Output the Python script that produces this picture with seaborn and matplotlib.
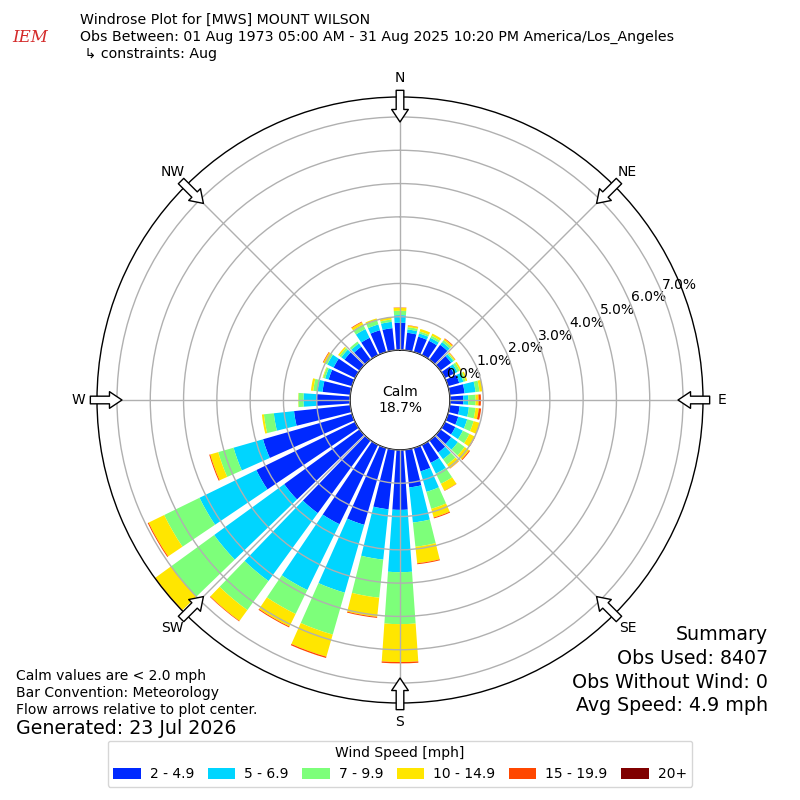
import numpy as np
import pandas as pd
import matplotlib
matplotlib.use("Agg")
import matplotlib.pyplot as plt
import seaborn as sns
from matplotlib.patches import Patch

# ---------------- data (percent of observations) ----------------
directions = list(range(0, 360, 10))
speed_bins = ["2 - 4.9", "5 - 6.9", "7 - 9.9", "10 - 14.9", "15 - 19.9", "20+"]

s_2_5 = [0.82, 0.53, 0.48, 0.48, 0.55, 0.40, 0.30, 0.35, 0.45, 0.40,
         0.30, 0.32, 0.35, 0.40, 0.45, 0.60, 0.73, 1.14, 1.80, 1.80,
         2.40, 2.65, 2.70, 2.80, 3.30, 2.78, 1.70, 1.00, 0.84, 0.73,
         0.72, 0.56, 0.48, 0.58, 0.68, 0.67]
s_5_7 = [0.23, 0.10, 0.10, 0.10, 0.10, 0.08, 0.12, 0.13, 0.33, 0.15,
         0.28, 0.28, 0.25, 0.25, 0.25, 0.36, 0.64, 1.06, 1.87, 1.52,
         2.12, 2.20, 2.52, 2.60, 1.90, 0.92, 0.61, 0.40, 0.15, 0.11,
         0.21, 0.12, 0.12, 0.29, 0.18, 0.19]
s_7_10 = [0.13, 0.07, 0.06, 0.07, 0.07, 0.04, 0.08, 0.07, 0.12, 0.22,
          0.20, 0.20, 0.22, 0.25, 0.20, 0.34, 0.53, 0.73, 1.56, 1.15,
          1.31, 0.80, 1.08, 1.60, 1.18, 0.48, 0.30, 0.15, 0.13, 0.06,
          0.07, 0.07, 0.07, 0.15, 0.13, 0.07]
s_10_15 = [0.09, 0.05, 0.08, 0.07, 0.05, 0.03, 0.05, 0.05, 0.10, 0.09,
           0.10, 0.18, 0.18, 0.17, 0.14, 0.23, 0.27, 0.50, 1.14, 0.58,
           0.69, 0.42, 0.40, 0.58, 0.52, 0.25, 0.06, 0.01, 0.07, 0.02,
           0.06, 0.05, 0.00, 0.08, 0.06, 0.07]
s_15_20 = [0.01, 0.01, 0.00, 0.00, 0.02, 0.01, 0.00, 0.00, 0.00, 0.07,
           0.07, 0.01, 0.02, 0.03, 0.01, 0.01, 0.03, 0.03, 0.04, 0.03,
           0.04, 0.03, 0.02, 0.02, 0.03, 0.03, 0.00, 0.00, 0.00, 0.00,
           0.02, 0.00, 0.00, 0.02, 0.00, 0.00]
s_20p = [0.0] * 36

calm_pct = 18.7
compass_labels = ["N", "NE", "E", "SE", "S", "SW", "W", "NW"]
ring_values = [0, 1, 2, 3, 4, 5, 6, 7]

title_lines = [
    "Windrose Plot for [MWS] MOUNT WILSON",
    "Obs Between: 01 Aug 1973 05:00 AM - 31 Aug 2025 10:20 PM America/Los_Angeles",
    " \u21b3 constraints: Aug",
]
left_notes = ["Calm values are < 2.0 mph", "Bar Convention: Meteorology",
              "Flow arrows relative to plot center."]
generated = "Generated: 23 Jul 2026"
summary_lines = ["Summary", "Obs Used: 8407", "Obs Without Wind: 0",
                 "Avg Speed: 4.9 mph"]

# ---------------- figure ----------------
sns.set_style("white")
plt.rcParams["font.family"] = ["DejaVu Sans"]
plt.rcParams["text.color"] = "black"
plt.rcParams["xtick.color"] = "black"
plt.rcParams["ytick.color"] = "black"
plt.rcParams["axes.labelcolor"] = "black"

series = [s_2_5, s_5_7, s_7_10, s_10_15, s_15_20, s_20p]
df = pd.DataFrame({"dir": np.tile(directions, len(speed_bins)),
                   "bin": np.repeat(speed_bins, len(directions)),
                   "pct": np.concatenate(series)})
palette = sns.color_palette(list(plt.cm.jet(np.linspace(0, 1, 7)[1:])))

fig = plt.figure(figsize=(8, 8), dpi=100)
ax = fig.add_axes([97 / 800, 97 / 800, 606 / 800, 606 / 800], projection="polar")
ax.set_theta_zero_location("N")
ax.set_theta_direction(-1)

bottom = np.zeros(len(directions))
for b, col in zip(speed_bins, palette):
    vals = df.loc[df["bin"] == b, "pct"].to_numpy()
    ax.bar(np.deg2rad(directions), vals, width=np.deg2rad(8), bottom=bottom,
           color=col, linewidth=0, align="center")
    bottom = bottom + vals

ax.set_rorigin(-1.5)
ax.set_rlim(0, 7.6)
ax.set_rticks(ring_values)
ax.set_yticklabels([f"{v:.1f}%" for v in ring_values], fontsize=10, color="black")
ax.set_rlabel_position(67.5)
ax.set_thetagrids(np.arange(0, 360, 45), labels=compass_labels, fontsize=10, color="black")
ax.tick_params(axis="x", pad=3)
ax.grid(True, color="#b0b0b0", linewidth=1)
ax.set_axisbelow(False)
for sp in ax.spines.values():
    sp.set_color("black")
    sp.set_linewidth(1)

# flow arrows at compass points
for ang in np.arange(0, 360, 45):
    t = np.deg2rad(ang)
    ax.annotate("", xy=(t, 6.85), xytext=(t, 7.8), annotation_clip=False,
                arrowprops=dict(arrowstyle="simple,head_length=0.9,head_width=1.2,tail_width=0.55",
                                fc="white", ec="black", lw=1, shrinkA=0, shrinkB=0))

ax.text(0.5, 0.5, f"Calm\n{calm_pct}%", transform=ax.transAxes, ha="center",
        va="center", fontsize=10, linespacing=1.1, color="black")

# titles
for i, line in enumerate(title_lines):
    fig.text(0.1, 1 - (20 + 17 * i) / 800, line, ha="left", va="center", fontsize=10.2)
fig.text(0.038, 1 - 38 / 800, "IEM", ha="center", va="center", fontsize=12,
         color="#d42a2a", style="italic", family="DejaVu Serif")

for i, line in enumerate(left_notes):
    fig.text(16 / 800, 1 - (676 + 17 * i) / 800, line, ha="left", va="center", fontsize=10)
fig.text(16 / 800, 1 - 729 / 800, generated, ha="left", va="center", fontsize=13.7)

for i, line in enumerate(summary_lines):
    fig.text(768 / 800, 1 - (635 + 23.5 * i) / 800, line, ha="right", va="center", fontsize=13.7)

handles = [Patch(facecolor=c, edgecolor="none") for c in palette]
leg = fig.legend(handles, speed_bins, loc="lower center", bbox_to_anchor=(0.5, 0.008),
                 ncol=6, title="Wind Speed [mph]", fontsize=10, title_fontsize=10,
                 frameon=True, handlelength=2.0, handleheight=0.9, handletextpad=0.65,
                 columnspacing=0.95)
leg.get_frame().set_edgecolor("#cccccc")

fig.savefig("out.png", dpi=100)
